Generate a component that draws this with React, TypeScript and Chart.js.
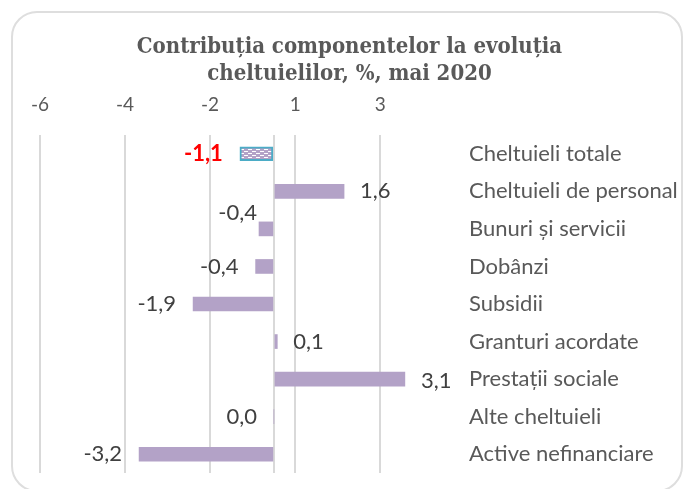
import React, { useEffect, useRef } from 'react';
import { Chart, registerables } from 'chart.js';

Chart.register(...registerables);

const categories = [
  'Cheltuieli totale',
  'Cheltuieli de personal',
  'Bunuri și servicii',
  'Dobânzi',
  'Subsidii',
  'Granturi acordate',
  'Prestații sociale',
  'Alte cheltuieli',
  'Active nefinanciare',
];
const barValues = [-0.8, 1.65, -0.35, -0.43, -1.9, 0.08, 3.08, 0.0, -3.17];
const valueLabels = ['-1,1', '1,6', '-0,4', '-0,4', '-1,9', '0,1', '3,1', '0,0', '-3,2'];
const tickValues = [-5.5, -3.5, -1.5, 0.5, 2.5];
const tickLabels = ['-6', '-4', '-2', '1', '3'];
const titleLines = ['Contribuția componentelor la evoluția', 'cheltuielilor, %, mai 2020'];

const FONT = 'Lato, "Open Sans", sans-serif';
const TITLE_FONT = 'bold 22px "DejaVu Serif Condensed", "Liberation Serif", serif';

function makePattern(): CanvasPattern | string {
  const c = document.createElement('canvas');
  c.width = 8;
  c.height = 4;
  const g = c.getContext('2d');
  if (!g) return '#b3a2c7';
  g.fillStyle = '#b3a2c7';
  g.fillRect(0, 0, 8, 4);
  g.fillStyle = '#ffffff';
  g.fillRect(0, 1, 4, 1);
  g.fillRect(4, 3, 4, 1);
  const p = g.createPattern(c, 'repeat');
  return p || '#b3a2c7';
}

const labelNudges: Record<number, { dx: number; dy: number }> = {
  2: { dx: 15, dy: -16 },
  6: { dx: 0, dy: 2 },
};

const titlePlugin = {
  id: 'centeredTitle',
  afterDraw(chart: any) {
    const ctx = chart.ctx as CanvasRenderingContext2D;
    ctx.save();
    ctx.font = TITLE_FONT;
    ctx.fillStyle = '#595959';
    ctx.textAlign = 'center';
    ctx.textBaseline = 'middle';
    const cx = chart.width / 2;
    titleLines.forEach((line, i) => ctx.fillText(line, cx, 47 + i * 27));
    ctx.restore();
  },
};

const valueLabelPlugin = {
  id: 'valueLabelPlugin',
  afterDatasetsDraw(chart: any) {
    const meta = chart.getDatasetMeta(0);
    const ctx = chart.ctx as CanvasRenderingContext2D;
    ctx.save();
    meta.data.forEach((bar: any, i: number) => {
      const v = barValues[i];
      const neg = v <= 0;
      const nudge = labelNudges[i] || { dx: 0, dy: 0 };
      const x = (neg ? bar.x - 17 : bar.x + 16) + nudge.dx;
      const y = bar.y + nudge.dy;
      ctx.font = (i === 0 ? 'bold ' : '') + '22px ' + FONT;
      ctx.fillStyle = i === 0 ? '#ff0000' : '#404040';
      ctx.textAlign = neg ? 'right' : 'left';
      ctx.textBaseline = 'middle';
      ctx.fillText(valueLabels[i], x, y);
    });
    ctx.restore();
  },
};

export default function App() {
  const ref = useRef<HTMLCanvasElement | null>(null);

  useEffect(() => {
    if (!ref.current) return;
    const pattern = makePattern();
    const bg = barValues.map((_, i) => (i === 0 ? pattern : '#b3a2c7'));
    const bw = barValues.map((_, i) => (i === 0 ? 2 : 0));
    const chart = new Chart(ref.current, {
      type: 'bar',
      data: {
        labels: categories,
        datasets: [
          {
            data: barValues,
            backgroundColor: bg as any,
            borderColor: '#4bacc6',
            borderWidth: bw,
            borderSkipped: false,
            barThickness: 14,
          },
        ],
      },
      options: {
        indexAxis: 'y',
        responsive: true,
        maintainAspectRatio: false,
        animation: false,
        layout: { padding: { left: 40, right: 18, top: 88, bottom: 16 } },
        plugins: {
          legend: { display: false },
          tooltip: { enabled: false },
          title: { display: false },
        },
        scales: {
          x: {
            position: 'top',
            min: -5.5,
            max: 4,
            afterBuildTicks: (scale: any) => {
              scale.ticks = [...tickValues, 0].map((v) => ({ value: v }));
            },
            afterFit: (scale: any) => {
              scale.height = 47;
            },
            ticks: {
              color: '#595959',
              font: { family: FONT, size: 19 },
              padding: 19,
              maxRotation: 0,
              autoSkip: false,
              callback: (value: any) => {
                const idx = tickValues.indexOf(Number(value));
                return idx >= 0 ? tickLabels[idx] : '';
              },
            },
            grid: { color: '#d9d9d9', lineWidth: 2, drawTicks: false },
            border: { display: false },
          },
          y: {
            position: 'right',
            afterFit: (scale: any) => {
              scale.width = 237;
              scale.paddingTop = 0;
              scale.paddingBottom = 0;
            },
            ticks: {
              color: '#595959',
              font: { family: FONT, size: 22 },
              padding: 25,
              crossAlign: 'near',
            },
            grid: { display: false, drawTicks: false },
            border: { display: false },
          },
        },
      },
      plugins: [valueLabelPlugin, titlePlugin],
    });
    return () => chart.destroy();
  }, []);

  return (
    <div style={{ position: 'fixed', left: 0, top: 0, width: 699, height: 489, background: '#fff', overflow: 'hidden' }}>
      <div
        style={{
          position: 'absolute',
          left: 11,
          top: 11,
          width: 672,
          height: 481,
          boxSizing: 'border-box',
          border: '2px solid #dedede',
          borderRadius: 26,
        }}
      />
      <div style={{ position: 'absolute', left: 0, top: 0, width: 699, height: 489 }}>
        <canvas ref={ref} />
      </div>
    </div>
  );
}
